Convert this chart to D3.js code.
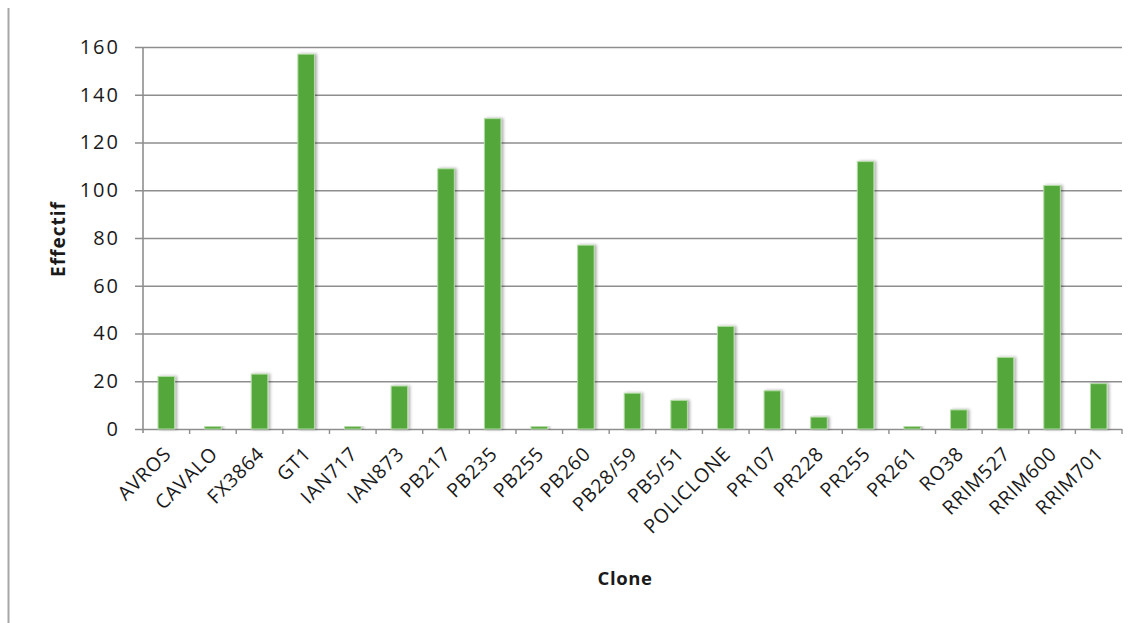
<!DOCTYPE html>
<html>
<head>
<meta charset="utf-8">
<script src="https://cdn.jsdelivr.net/npm/d3@7"></script>
<style>
  html, body { margin: 0; padding: 0; background: #ffffff; }
  svg { display: block; }
</style>
</head>
<body>
<svg id="chart" width="1148" height="623"></svg>
<script>
// Number of trees per clone
const clones = ["AVROS", "CAVALO", "FX3864", "GT1", "IAN717", "IAN873", "PB217", "PB235",
  "PB255", "PB260", "PB28/59", "PB5/51", "POLICLONE", "PR107", "PR228", "PR255",
  "PR261", "RO38", "RRIM527", "RRIM600", "RRIM701"];
const effectifs = [22, 1, 23, 157, 1, 18, 109, 130, 1, 77, 15, 12, 43, 16, 5, 112, 1, 8, 30, 102, 19];
const yTicks = [0, 20, 40, 60, 80, 100, 120, 140, 160];
const xTitle = "Clone";
const yTitle = "Effectif";

const svg = d3.select("#chart");
const font = "'Open Sans', 'DejaVu Sans', sans-serif";
const gridColor = "#8e8e8e";

const plot = { left: 143, right: 1122, top: 47, bottom: 429 };

const x = d3.scaleBand().domain(clones).range([plot.left, plot.right]).paddingInner(0.645).paddingOuter(0.3225);
const xOuter = d3.scaleBand().domain(clones).range([plot.left, plot.right]);
const y = d3.scaleLinear().domain([0, 160]).range([plot.bottom, plot.top]);

// soft shadow under each bar
const defs = svg.append("defs");
const f = defs.append("filter").attr("id", "shadow")
  .attr("x", "-50%").attr("y", "-10%").attr("width", "220%").attr("height", "120%");
f.append("feDropShadow").attr("dx", 2).attr("dy", 0).attr("stdDeviation", 1.8)
  .attr("flood-color", "#000").attr("flood-opacity", 0.32);

// frame line on the left
svg.append("line").attr("x1", 8.5).attr("x2", 8.5).attr("y1", 8).attr("y2", 623)
  .attr("stroke", "#a8a8a8").attr("stroke-width", 2);

// horizontal gridlines with y-axis ticks
const yAxis = d3.axisLeft(y).tickValues(yTicks).tickSize(-(plot.right - plot.left)).tickPadding(23)
  .tickFormat(d3.format("d"));
const gy = svg.append("g").attr("transform", `translate(${plot.left},0)`).call(yAxis);
gy.select(".domain").remove();
gy.selectAll(".tick line").attr("x1", -8).attr("stroke", gridColor).attr("stroke-width", 1.6);
gy.selectAll(".tick text").attr("font-family", font).attr("font-size", 20)
  .attr("fill", "#1a1a1a").attr("letter-spacing", "2px");

// vertical axis line
svg.append("line").attr("x1", plot.left).attr("x2", plot.left).attr("y1", plot.top).attr("y2", plot.bottom + 4)
  .attr("stroke", gridColor).attr("stroke-width", 1.6);

// bottom tick marks at category boundaries
svg.append("g").selectAll("line").data(clones).join("line")
  .attr("x1", d => xOuter(d) + xOuter.bandwidth())
  .attr("x2", d => xOuter(d) + xOuter.bandwidth())
  .attr("y1", plot.bottom).attr("y2", plot.bottom + 5)
  .attr("stroke", gridColor).attr("stroke-width", 1.4);

// bars
svg.append("g").selectAll("rect").data(clones).join("rect")
  .attr("x", d => x(d))
  .attr("y", (d, i) => y(effectifs[i]))
  .attr("width", x.bandwidth())
  .attr("height", (d, i) => plot.bottom - y(effectifs[i]))
  .attr("fill", "#53a73a")
  .attr("stroke", "#b4dca6")
  .attr("stroke-width", 1)
  .attr("filter", "url(#shadow)");

// category labels, rotated
svg.append("g").selectAll("text").data(clones).join("text")
  .attr("transform", d => `translate(${xOuter(d) + xOuter.bandwidth() / 2 + 6},${plot.bottom + 26}) rotate(-45)`)
  .attr("text-anchor", "end")
  .attr("font-family", font).attr("font-size", 19.5)
  .attr("letter-spacing", "0.8px")
  .attr("fill", "#1a1a1a")
  .text(d => d);

// axis titles
svg.append("text")
  .attr("x", 625).attr("y", 585)
  .attr("text-anchor", "middle")
  .attr("font-family", font).attr("font-size", 18.5).attr("font-weight", "bold")
  .attr("letter-spacing", "0.6px")
  .attr("fill", "#1a1a1a")
  .text(xTitle);

svg.append("text")
  .attr("transform", `translate(65,239) rotate(-90)`)
  .attr("text-anchor", "middle")
  .attr("font-family", font).attr("font-size", 19).attr("font-weight", "bold")
  .attr("letter-spacing", "1px")
  .attr("fill", "#1a1a1a")
  .text(yTitle);
</script>
</body>
</html>
